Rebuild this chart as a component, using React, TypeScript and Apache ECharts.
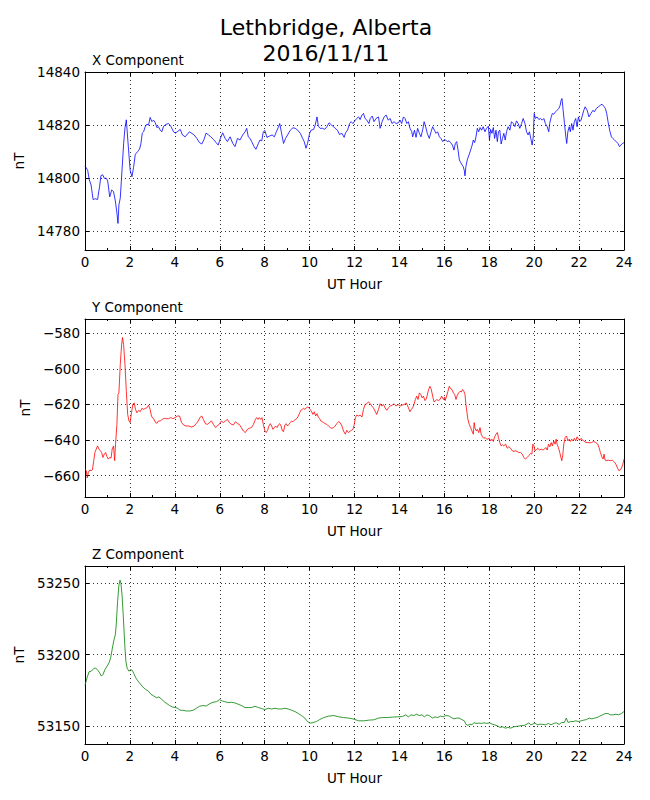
import React, { useEffect, useRef } from "react";
import * as echarts from "echarts";

// ---------- X component ----------
const xHours = [
  0.0, 0.04, 0.12, 0.19, 0.27, 0.36, 0.46, 0.56, 0.65, 0.71, 0.79, 0.86, 0.95, 1.01, 1.1, 1.19, 1.27, 1.35, 1.42, 1.47,
  1.51, 1.57, 1.64, 1.72, 1.78, 1.84, 1.91, 2.01, 2.09, 2.16, 2.24, 2.34, 2.43, 2.49, 2.55, 2.61, 2.68, 2.76, 2.83, 2.9,
  2.98, 3.05, 3.13, 3.2, 3.27, 3.35, 3.42, 3.5, 3.61, 3.72, 3.82, 3.94, 4.03, 4.12, 4.24, 4.34, 4.46, 4.56, 4.65, 4.76,
  4.86, 4.98, 5.1, 5.2, 5.3, 5.39, 5.5, 5.6, 5.72, 5.84, 5.93, 6.01, 6.13, 6.24, 6.34, 6.46, 6.58, 6.68, 6.79, 6.9,
  7.02, 7.13, 7.2, 7.27, 7.35, 7.42, 7.53, 7.61, 7.72, 7.79, 7.87, 7.94, 8.01, 8.1, 8.22, 8.33, 8.43, 8.52, 8.62, 8.67,
  8.74, 8.84, 8.93, 9.02, 9.14, 9.26, 9.36, 9.47, 9.59, 9.69, 9.76, 9.84, 9.91, 10.0, 10.07, 10.18, 10.25, 10.33, 10.39, 10.47,
  10.58, 10.67, 10.77, 10.87, 10.98, 11.07, 11.14, 11.24, 11.33, 11.44, 11.54, 11.6, 11.69, 11.78, 11.85, 11.93, 12.01, 12.1, 12.18, 12.25,
  12.33, 12.4, 12.47, 12.55, 12.64, 12.7, 12.79, 12.87, 12.96, 13.07, 13.14, 13.23, 13.32, 13.41, 13.5, 13.59, 13.67, 13.76, 13.85, 13.96,
  14.03, 14.1, 14.18, 14.25, 14.33, 14.4, 14.47, 14.55, 14.59, 14.67, 14.74, 14.81, 14.89, 14.96, 15.04, 15.1, 15.17, 15.24, 15.33, 15.41,
  15.48, 15.56, 15.63, 15.7, 15.78, 15.85, 15.93, 16.0, 16.06, 16.13, 16.21, 16.28, 16.36, 16.43, 16.49, 16.55, 16.61, 16.67, 16.73, 16.79,
  16.84, 16.89, 16.92, 16.96, 17.02, 17.1, 17.17, 17.24, 17.29, 17.35, 17.41, 17.47, 17.53, 17.59, 17.66, 17.73, 17.81, 17.88, 17.96, 18.01,
  18.06, 18.12, 18.18, 18.24, 18.3, 18.36, 18.41, 18.47, 18.53, 18.59, 18.65, 18.71, 18.77, 18.84, 18.92, 18.99, 19.07, 19.14, 19.21, 19.29,
  19.36, 19.44, 19.51, 19.59, 19.66, 19.73, 19.79, 19.85, 19.91, 19.96, 20.0, 20.06, 20.13, 20.21, 20.28, 20.36, 20.43, 20.5, 20.58, 20.65,
  20.69, 20.76, 20.81, 20.87, 20.95, 21.02, 21.1, 21.16, 21.2, 21.24, 21.29, 21.35, 21.41, 21.45, 21.5, 21.56, 21.61, 21.67, 21.73, 21.79,
  21.85, 21.91, 21.97, 22.03, 22.09, 22.15, 22.21, 22.27, 22.36, 22.44, 22.53, 22.62, 22.68, 22.77, 22.86, 22.95, 23.02, 23.1, 23.17, 23.23,
  23.29, 23.36, 23.44, 23.5, 23.58, 23.65, 23.73, 23.8, 23.86, 23.93, 24.0,
];
const xValues = [
  14804.5, 14804.1, 14803, 14799.4, 14797.5, 14792, 14792.3, 14792, 14797, 14801, 14801.3, 14800, 14800, 14799, 14793, 14795.6, 14795, 14791.5, 14787, 14783,
  14790, 14792.5, 14802, 14813, 14819, 14822, 14814, 14803, 14800.6, 14804, 14809, 14810, 14811, 14813, 14817, 14817.5, 14819.4, 14820.4, 14820, 14822.9,
  14821.3, 14821.9, 14820.9, 14819.1, 14819.4, 14818.1, 14817.5, 14819.6, 14820.3, 14820.6, 14819.6, 14817.5, 14817, 14817.6, 14818.4, 14816.3, 14815.6, 14816.6, 14817.5, 14816.9,
  14816.3, 14815, 14813.4, 14812.9, 14814.6, 14817, 14816.3, 14815.6, 14814.6, 14813.4, 14812.5, 14814.6, 14817.1, 14815, 14813.8, 14815.6, 14813.1, 14811.9, 14815, 14814.4,
  14816.3, 14817.5, 14818.8, 14815.6, 14815, 14813.8, 14811.9, 14810.9, 14813.1, 14814.4, 14814.1, 14817.5, 14818, 14815.4, 14815.9, 14816.3, 14815.6, 14817.5, 14819.4, 14820.6,
  14817.5, 14813.1, 14815, 14816.3, 14818.1, 14819, 14818.8, 14818.1, 14816.9, 14815, 14813.8, 14811.3, 14813.1, 14816.9, 14818.1, 14818.4, 14820, 14823.1, 14819.6, 14818.8,
  14818.8, 14818.4, 14819.4, 14820.9, 14820, 14819.4, 14818.8, 14818.1, 14816.5, 14816.9, 14815.4, 14817.1, 14818.1, 14820.6, 14821.3, 14820.6, 14821.6, 14822.5, 14823.1, 14822.1,
  14823.8, 14824.4, 14822.5, 14821.9, 14820.6, 14822.5, 14823.4, 14821.3, 14822.5, 14823.1, 14818.8, 14821.3, 14823.1, 14823.8, 14821.9, 14822.5, 14820.6, 14821.3, 14820.6, 14820.9,
  14821.9, 14820.6, 14823.1, 14822.5, 14820.6, 14821.3, 14818.8, 14817.5, 14815.6, 14818.1, 14815.4, 14818.8, 14816.9, 14815.6, 14818.4, 14821.3, 14819.4, 14816.9, 14815, 14817.5,
  14819.4, 14818.1, 14816.9, 14817.5, 14815.6, 14815, 14813.8, 14814.6, 14814.4, 14813.8, 14814.1, 14813.4, 14812.5, 14810.6, 14813.1, 14813.8, 14810.6, 14806.9, 14805.9, 14805,
  14804.4, 14802.9, 14800.9, 14804.4, 14806.9, 14808.8, 14810.6, 14812.5, 14814.4, 14813.4, 14815.6, 14818.8, 14817.5, 14819.1, 14818.1, 14819.4, 14817.5, 14818.8, 14819.6, 14814.4,
  14818.4, 14816.9, 14819.1, 14815, 14818.1, 14813.8, 14817.5, 14818.1, 14812.9, 14815, 14816.9, 14814.4, 14817.5, 14819.4, 14818.1, 14821.3, 14820.6, 14819.4, 14821.6, 14820.6,
  14818.8, 14820.6, 14822.5, 14820.6, 14817.5, 14816.3, 14817.5, 14815, 14812.5, 14815.6, 14824.4, 14822.5, 14823.1, 14822.1, 14822.5, 14821.9, 14822.5, 14820.6, 14819.4, 14817.5,
  14820.6, 14823.1, 14824.4, 14824.1, 14825, 14825.6, 14826.3, 14827.5, 14829.4, 14830, 14825.6, 14820.6, 14815.6, 14813.1, 14817.5, 14819.4, 14817.5, 14820.6, 14818.1, 14821.3,
  14822.5, 14819.4, 14823.1, 14821.3, 14821.9, 14823.8, 14825.6, 14826.9, 14825.6, 14823.1, 14824.4, 14825.6, 14825, 14826.3, 14826.9, 14827.5, 14827.9, 14827.1, 14826.3, 14824.4,
  14821.3, 14818.1, 14815.6, 14815, 14814.4, 14813.8, 14813.1, 14811.9, 14812.5, 14813.1, 14813.4,
];

// ---------- Y component ----------
const yHours = [
  0.0, 0.06, 0.1, 0.15, 0.21, 0.27, 0.33, 0.39, 0.44, 0.5, 0.56, 0.62, 0.68, 0.74, 0.8, 0.86, 0.92, 0.98, 1.04, 1.1,
  1.16, 1.21, 1.27, 1.32, 1.36, 1.42, 1.47, 1.51, 1.57, 1.63, 1.67, 1.72, 1.78, 1.84, 1.9, 1.96, 2.01, 2.07, 2.13, 2.19,
  2.25, 2.31, 2.39, 2.46, 2.53, 2.61, 2.68, 2.76, 2.83, 2.9, 2.96, 3.02, 3.08, 3.14, 3.2, 3.27, 3.35, 3.44, 3.53, 3.61,
  3.72, 3.82, 3.91, 4.01, 4.12, 4.21, 4.3, 4.39, 4.5, 4.62, 4.74, 4.86, 4.95, 5.04, 5.13, 5.2, 5.27, 5.36, 5.45, 5.54,
  5.63, 5.72, 5.81, 5.9, 5.99, 6.07, 6.16, 6.25, 6.34, 6.43, 6.52, 6.61, 6.7, 6.79, 6.87, 6.96, 7.05, 7.14, 7.23, 7.32,
  7.41, 7.5, 7.59, 7.64, 7.7, 7.76, 7.82, 7.88, 7.94, 8.01, 8.07, 8.13, 8.19, 8.25, 8.31, 8.37, 8.43, 8.49, 8.55, 8.61,
  8.67, 8.73, 8.79, 8.84, 8.9, 8.96, 9.02, 9.08, 9.14, 9.2, 9.26, 9.32, 9.38, 9.44, 9.5, 9.56, 9.61, 9.67, 9.73, 9.79,
  9.85, 9.91, 9.97, 10.03, 10.09, 10.15, 10.21, 10.27, 10.33, 10.39, 10.44, 10.5, 10.56, 10.62, 10.7, 10.77, 10.84, 10.92, 10.99, 11.07,
  11.14, 11.21, 11.29, 11.36, 11.44, 11.51, 11.59, 11.66, 11.73, 11.81, 11.87, 11.93, 11.99, 12.04, 12.1, 12.18, 12.25, 12.33, 12.4, 12.47,
  12.55, 12.62, 12.7, 12.77, 12.84, 12.93, 12.99, 13.07, 13.14, 13.21, 13.29, 13.36, 13.44, 13.51, 13.59, 13.68, 13.76, 13.85, 13.94, 14.03,
  14.12, 14.21, 14.3, 14.39, 14.47, 14.53, 14.59, 14.65, 14.71, 14.77, 14.83, 14.89, 14.95, 15.01, 15.07, 15.13, 15.19, 15.24, 15.3, 15.36,
  15.42, 15.48, 15.54, 15.6, 15.66, 15.73, 15.81, 15.88, 15.96, 16.01, 16.04, 16.1, 16.16, 16.22, 16.28, 16.34, 16.4, 16.46, 16.52, 16.58,
  16.64, 16.7, 16.76, 16.81, 16.87, 16.92, 16.96, 17.01, 17.05, 17.11, 17.17, 17.23, 17.29, 17.33, 17.36, 17.42, 17.47, 17.53, 17.59, 17.64,
  17.7, 17.76, 17.82, 17.88, 17.94, 18.0, 18.06, 18.12, 18.18, 18.24, 18.3, 18.36, 18.41, 18.47, 18.53, 18.59, 18.65, 18.73, 18.8, 18.87,
  18.95, 19.02, 19.1, 19.17, 19.24, 19.32, 19.39, 19.47, 19.54, 19.61, 19.69, 19.76, 19.84, 19.9, 19.94, 19.99, 20.03, 20.09, 20.16, 20.24,
  20.31, 20.39, 20.46, 20.52, 20.58, 20.64, 20.7, 20.76, 20.81, 20.87, 20.93, 20.98, 21.02, 21.08, 21.14, 21.19, 21.23, 21.27, 21.32, 21.38,
  21.44, 21.5, 21.56, 21.61, 21.67, 21.73, 21.79, 21.85, 21.91, 21.97, 22.03, 22.09, 22.15, 22.21, 22.3, 22.39, 22.47, 22.56, 22.65, 22.74,
  22.83, 22.89, 22.95, 23.01, 23.07, 23.11, 23.16, 23.21, 23.3, 23.39, 23.48, 23.53, 23.59, 23.65, 23.71, 23.77, 23.83, 23.89, 23.95, 24.0,
];
const yValues = [
  -656.5, -657.2, -661.3, -658.1, -656.8, -657.2, -656.8, -651.6, -647, -645.1, -643.3, -645.1, -646, -647, -649.8, -647.9, -647, -649.4, -650.7, -649.8,
  -650.1, -645.1, -643.3, -651.6, -642.3, -631.2, -614.4, -613.5, -597.7, -586.5, -582.4, -586.5, -597.7, -612.6, -625.6, -629.3, -630.2, -624.7, -620, -619.1,
  -622.8, -624.7, -623.3, -624.1, -622.2, -622.8, -622.2, -621.9, -620.4, -622.8, -626.5, -627.8, -628.4, -630.2, -630.6, -629.3, -629.3, -628.4, -627.8, -628,
  -628, -627.4, -628, -627.4, -626.5, -626.5, -630.2, -631.5, -632.1, -632.1, -632.7, -632.1, -630.8, -629.3, -627.1, -626.5, -628.4, -630.8, -631.2, -630.2,
  -629.3, -631.2, -633, -632.1, -630.8, -629.3, -630.2, -629.3, -628.4, -630.2, -631.2, -631.5, -629.7, -630.8, -631.2, -633, -634.9, -635.8, -634, -633.4,
  -633, -631.2, -628.4, -627.4, -628.4, -627.4, -628.4, -627.4, -631.2, -634.9, -635.8, -634.5, -632.1, -630.8, -632.1, -634, -633, -632.1, -633, -631.5,
  -630.8, -632.1, -634.9, -635.3, -631.5, -630.8, -632.1, -631.2, -630.2, -629.3, -629.7, -628.9, -628.4, -627.8, -626.5, -624.7, -623.3, -622.8, -622.2, -622.8,
  -621.9, -621.5, -621.9, -622.8, -624.1, -625.6, -624.1, -626.5, -625.2, -627.1, -627.8, -629.3, -629.7, -630.2, -630.8, -631.2, -632.1, -633, -633.4, -633,
  -632.1, -630.8, -629.7, -630.2, -632.1, -634.9, -636.7, -634.5, -635.8, -634.9, -634.5, -634, -631.2, -627.4, -626, -626.5, -626, -627.1, -622.8, -620,
  -619.6, -618.5, -619.6, -620.9, -621.9, -624.1, -625.6, -622.8, -619.6, -620.9, -620, -621.9, -623.3, -621.9, -620.9, -620.4, -619.6, -620.9, -620, -620.9,
  -620.4, -620, -619.1, -621.5, -624.1, -622.8, -621.9, -620, -617.2, -615.3, -617.2, -613.5, -614.4, -616.3, -615.3, -617.8, -617.2, -614.8, -611.6, -609.8,
  -611.6, -615.3, -618.5, -618.1, -617.2, -617.8, -617.2, -615.3, -617.2, -615.9, -617.8, -615.3, -612.6, -609.8, -611.1, -611.6, -613.5, -614.4, -617.2, -614.8,
  -613.5, -612.6, -613, -611.6, -612.6, -614.4, -620, -624.7, -628.4, -631.2, -633, -634.9, -636.7, -630.2, -633, -634.9, -634, -635.8, -633, -636.7,
  -638.2, -639, -638.6, -639.5, -639.5, -639, -640.5, -639.5, -640.8, -638.2, -636.7, -635.8, -638.6, -641.4, -643.3, -642.7, -643.3, -642.3, -644.6, -643.8,
  -644.6, -646, -646.4, -646, -646.4, -647, -647, -647.9, -649.8, -650.7, -649.8, -648.8, -647.5, -647.9, -642.3, -643.3, -646, -645.6, -644.6, -645.6,
  -645.1, -645.6, -645.1, -644.2, -645.6, -642.3, -643.8, -641.4, -643.3, -640.5, -642.3, -639.5, -642.3, -644.2, -647, -649.8, -651.6, -648.8, -642.3, -638.6,
  -637.7, -640.5, -639.5, -640.8, -639.5, -640.5, -639, -640.5, -638.2, -639.5, -640.1, -639, -640.1, -640.5, -641.4, -641.4, -641.6, -641.4, -640.8, -641.4,
  -642.3, -644.2, -647, -649.4, -650.7, -647.9, -651.3, -651.6, -651.3, -651.6, -651.3, -652, -652.6, -653.9, -655.7, -657.2, -656.8, -655.7, -653.5, -650.7,
];

// ---------- Z component ----------
const zHours = [
  0.0, 0.09, 0.18, 0.28, 0.39, 0.47, 0.58, 0.65, 0.73, 0.8, 0.89, 0.98, 1.07, 1.14, 1.22, 1.29, 1.35, 1.39, 1.45, 1.51,
  1.56, 1.6, 1.65, 1.71, 1.77, 1.82, 1.88, 1.96, 2.03, 2.11, 2.18, 2.26, 2.36, 2.46, 2.58, 2.7, 2.82, 2.94, 3.06, 3.18,
  3.29, 3.41, 3.53, 3.65, 3.77, 3.89, 4.01, 4.12, 4.24, 4.36, 4.51, 4.66, 4.81, 4.96, 5.1, 5.25, 5.4, 5.55, 5.7, 5.85,
  5.99, 6.11, 6.23, 6.38, 6.53, 6.68, 6.82, 6.97, 7.12, 7.27, 7.42, 7.57, 7.72, 7.86, 8.01, 8.16, 8.31, 8.46, 8.61, 8.75,
  8.9, 9.05, 9.2, 9.35, 9.5, 9.64, 9.79, 9.91, 10.03, 10.15, 10.3, 10.45, 10.63, 10.85, 11.08, 11.3, 11.52, 11.75, 11.97, 12.19,
  12.42, 12.64, 12.86, 13.06, 13.24, 13.46, 13.68, 13.91, 14.13, 14.28, 14.4, 14.52, 14.64, 14.76, 14.88, 15.0, 15.11, 15.23, 15.35, 15.47,
  15.59, 15.71, 15.83, 15.95, 16.07, 16.19, 16.31, 16.43, 16.55, 16.66, 16.78, 16.89, 16.96, 17.05, 17.14, 17.23, 17.32, 17.41, 17.53, 17.65,
  17.77, 17.89, 18.01, 18.13, 18.24, 18.36, 18.48, 18.6, 18.72, 18.84, 18.96, 19.08, 19.2, 19.32, 19.44, 19.56, 19.68, 19.76, 19.85, 19.94,
  20.03, 20.15, 20.27, 20.39, 20.51, 20.63, 20.75, 20.87, 20.99, 21.11, 21.22, 21.34, 21.43, 21.51, 21.61, 21.73, 21.85, 21.97, 22.09, 22.21,
  22.33, 22.45, 22.57, 22.69, 22.8, 22.92, 23.04, 23.16, 23.28, 23.4, 23.52, 23.64, 23.76, 23.88, 24.0,
];
const zValues = [
  53178.5, 53183.8, 53188, 53188.4, 53190.3, 53190.7, 53188.9, 53187.3, 53185, 53186.1, 53189.6, 53191.9, 53194.2, 53197.7, 53204.6, 53210.4, 53213.9, 53220.8, 53237, 53248.6,
  53252.1, 53249.8, 53241.7, 53225.5, 53206.9, 53195.4, 53190.3, 53188.4, 53189.6, 53188.9, 53186.6, 53183.8, 53181.5, 53179.6, 53177.3, 53175.7, 53174.5, 53172.2, 53171.1, 53169.9,
  53170.4, 53168.8, 53167.1, 53165.7, 53164.4, 53163.4, 53163, 53162.5, 53161.1, 53161.1, 53160.6, 53160.6, 53161.1, 53162.5, 53163.9, 53164.4, 53164.1, 53165.7, 53166.7, 53167.1,
  53168.5, 53167.6, 53167.1, 53166.4, 53166.7, 53166.2, 53165.3, 53164.4, 53163, 53163, 53163, 53163.9, 53163, 53162.3, 53161.6, 53162.5, 53162, 53162.5, 53162, 53162,
  53162.5, 53162, 53161.1, 53160.2, 53158.8, 53157.4, 53155.6, 53153.2, 53152.1, 53152.5, 53153.2, 53154.6, 53156, 53157, 53157.4, 53156.5, 53156, 53155.6, 53154.9, 53153.7,
  53153.7, 53154.2, 53154.4, 53155.6, 53156, 53156, 53156.3, 53156.5, 53156.7, 53157.9, 53156.5, 53157.9, 53157.4, 53158.3, 53157.4, 53157.9, 53156.5, 53157.9, 53157.2, 53155.6,
  53156.5, 53156, 53157, 53156.5, 53157.4, 53157.2, 53156, 53155.1, 53155.6, 53155.6, 53154.6, 53153.7, 53151.4, 53150.5, 53151.4, 53150.9, 53152.5, 53151.9, 53152.1, 53151.9,
  53152.3, 53151.9, 53152.3, 53151.4, 53150.9, 53150.2, 53149.1, 53149.5, 53148.6, 53149.1, 53148.6, 53149.5, 53149.8, 53150, 53150.5, 53150.5, 53151.4, 53152.3, 53150.9, 53151.4,
  53152.1, 53150.9, 53151.4, 53151.2, 53150.9, 53151.9, 53150.9, 53151.9, 53152.3, 53151.2, 53152.5, 53152.5, 53155.6, 53152.5, 53153.2, 53153.2, 53153.7, 53153.2, 53153.7, 53154.2,
  53154.6, 53155.6, 53155.1, 53155.6, 53156, 53157, 53157.9, 53158.8, 53158.8, 53157.9, 53157.9, 53158.3, 53157.9, 53158.8, 53160.2,
];

const mainTitle = ["Lethbridge, Alberta", "2016/11/11"];
const panelTitles = ["X Component", "Y Component", "Z Component"];
const panelColors = ["#0000ff", "#ff0000", "#008000"];
const yRanges = [
  [14773, 14840],
  [-672, -572],
  [53137.5, 53262],
];
const yStep = [20, 20, 50];
const xTickStep = 2;
const xLabel = "UT Hour";
const yLabel = "nT";

const FONT = "DejaVu Sans";

function toPairs(h: number[], v: number[]) {
  return h.map((t, i) => [t, v[i]]);
}

export default function App() {
  const ref = useRef<HTMLDivElement>(null);
  useEffect(() => {
    const chart = echarts.init(ref.current!, null, { renderer: "svg" });
    const tops = [72, 319, 566];
    const left = 85;
    const width = 539;
    const height = 178;
    const series = [toPairs(xHours, xValues), toPairs(yHours, yValues), toPairs(zHours, zValues)];

    const grids: any[] = [];
    const xAxes: any[] = [];
    const yAxes: any[] = [];
    const seriesOpts: any[] = [];
    const graphics: any[] = [];

    const black = { color: "#000", width: 1 };
    const labelStyle = { color: "#000", fontSize: 13.5, fontFamily: FONT };

    for (let i = 0; i < 3; i++) {
      grids.push({ left, top: tops[i], width, height, containLabel: false });
      const xBase = {
        gridIndex: i,
        type: "value",
        min: 0,
        max: 24,
        interval: xTickStep,
        axisLine: { show: true, onZero: false, lineStyle: black },
        axisTick: { show: true, inside: true, length: 4, lineStyle: black },
        minorTick: { show: true, splitNumber: 2, length: 2, lineStyle: black },
      };
      xAxes.push({
        ...xBase,
        position: "bottom",
        axisLabel: { ...labelStyle, margin: 5 },
        splitLine: { show: true, lineStyle: { color: "#000", width: 0.8, type: [1, 3] } },
        name: xLabel,
        nameLocation: "middle",
        nameGap: 27,
        nameTextStyle: labelStyle,
      });
      xAxes.push({
        ...xBase,
        position: "top",
        axisLabel: { show: false },
        splitLine: { show: false },
      });
      const yBase = {
        gridIndex: i,
        type: "value",
        min: yRanges[i][0],
        max: yRanges[i][1],
        splitNumber: 3,
        minInterval: yStep[i],
        maxInterval: yStep[i],
        scale: true,
        axisLine: { show: true, onZero: false, lineStyle: black },
        axisTick: { show: true, inside: true, length: 4, lineStyle: black },
      };
      yAxes.push({
        ...yBase,
        position: "left",
        axisLabel: {
          ...labelStyle,
          margin: 5,
          showMinLabel: false,
          showMaxLabel: i === 0,
          formatter: (v: number) => String(v).replace("-", "\u2212"),
        },
        splitLine: { show: true, lineStyle: { color: "#000", width: 0.8, type: [1, 3] } },
        name: yLabel,
        nameLocation: "middle",
        nameGap: 52,
        nameTextStyle: labelStyle,
      });
      yAxes.push({
        ...yBase,
        position: "right",
        axisLabel: { show: false },
        splitLine: { show: false },
      });
      seriesOpts.push({
        type: "line",
        xAxisIndex: 2 * i,
        yAxisIndex: 2 * i,
        data: series[i],
        showSymbol: false,
        symbol: "none",
        silent: true,
        lineStyle: { color: panelColors[i], width: 0.8 },
      });
      graphics.push({
        type: "text",
        x: 92,
        y: tops[i] - 12,
        style: {
          text: panelTitles[i],
          fill: "#000",
          font: `13.5px "${FONT}"`,
          textAlign: "left",
          textVerticalAlign: "middle",
        },
      });
    }

    graphics.push({
      type: "text",
      x: 326,
      y: 27,
      style: { text: mainTitle[0], fill: "#000", font: `22px "${FONT}"`, textAlign: "center", textVerticalAlign: "middle" },
    });
    graphics.push({
      type: "text",
      x: 326,
      y: 53,
      style: { text: mainTitle[1], fill: "#000", font: `22px "${FONT}"`, textAlign: "center", textVerticalAlign: "middle" },
    });

    chart.setOption({
      animation: false,
      backgroundColor: "#fff",
      textStyle: { fontFamily: FONT },
      grid: grids,
      xAxis: xAxes,
      yAxis: yAxes,
      series: seriesOpts,
      graphic: graphics,
    });
    return () => chart.dispose();
  }, []);
  return (
    <div
      ref={ref}
      style={{ position: "absolute", left: 0, top: 0, width: 650, height: 800 }}
    />
  );
}
